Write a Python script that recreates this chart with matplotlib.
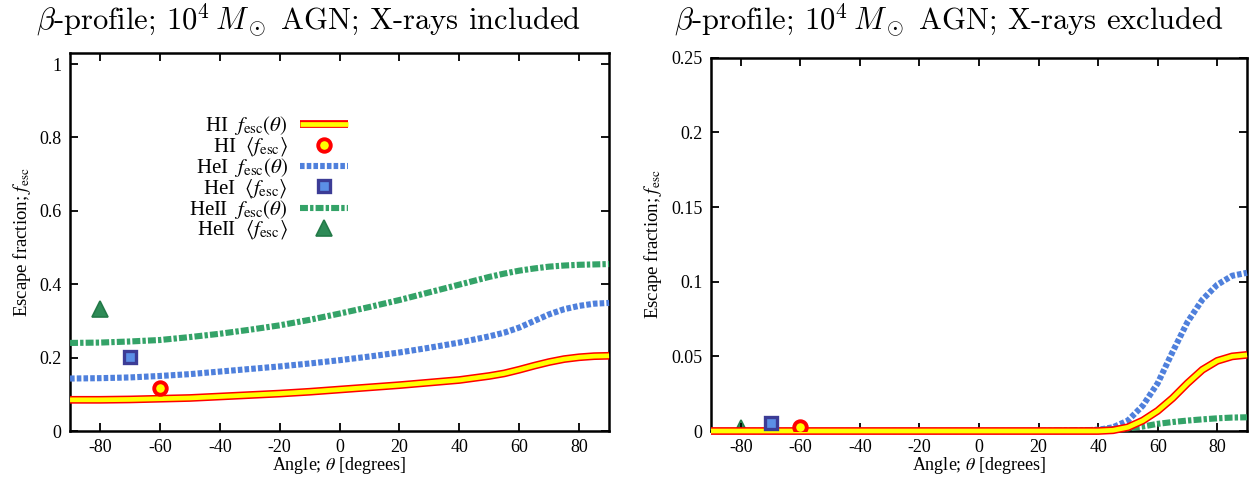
import matplotlib
matplotlib.use("Agg")
import matplotlib.pyplot as plt
import matplotlib.patheffects as pe
from matplotlib.ticker import FuncFormatter

plt.rcParams['font.family'] = ['Liberation Serif', 'DejaVu Serif']
plt.rcParams['mathtext.fontset'] = 'stix'

# ---- data ----
theta_hi_l = [-90, -80, -70, -60, -50, -40, -30, -20, -10, 0, 10, 20, 30, 40, 50, 55, 60, 65, 70, 75, 80, 85, 90]
hi_l = [0.085, 0.085, 0.086, 0.088, 0.090, 0.094, 0.098, 0.102, 0.107, 0.113, 0.119, 0.125, 0.132, 0.139,
        0.150, 0.157, 0.167, 0.178, 0.188, 0.196, 0.201, 0.204, 0.205]
hei_l = [0.143, 0.144, 0.146, 0.150, 0.155, 0.162, 0.169, 0.176, 0.184, 0.193, 0.203, 0.214, 0.227, 0.241,
         0.258, 0.268, 0.282, 0.300, 0.318, 0.332, 0.341, 0.347, 0.349]
heii_l = [0.240, 0.241, 0.244, 0.248, 0.256, 0.265, 0.276, 0.288, 0.303, 0.320, 0.338, 0.357, 0.378, 0.399,
          0.420, 0.429, 0.437, 0.443, 0.448, 0.451, 0.453, 0.454, 0.455]

theta_r = [-90, -60, -30, 0, 20, 30, 35, 40, 45, 50, 55, 60, 65, 70, 75, 80, 85, 90]
hi_r = [0.0, 0.0, 0.0, 0.0, 0.0, 0.0, 0.0, 0.0, 0.0005, 0.0025, 0.007, 0.0135, 0.022, 0.032, 0.041, 0.047, 0.050, 0.051]
hei_r = [0.0, 0.0, 0.0, 0.0, 0.0, 0.0, 0.0003, 0.0008, 0.0025, 0.007, 0.017, 0.032, 0.053, 0.073, 0.088, 0.098, 0.104, 0.106]
heii_r = [0.0, 0.0, 0.0, 0.0, 0.0, 0.0003, 0.0005, 0.0008, 0.0013, 0.0018, 0.003, 0.0048, 0.006, 0.007, 0.0078, 0.0085, 0.009, 0.0092]

# angle-averaged values and the angle they are shown at
mean_theta = {'HI': -60, 'HeI': -70, 'HeII': -80}
mean_l = {'HI': 0.118, 'HeI': 0.201, 'HeII': 0.332}
mean_r = {'HI': 0.0025, 'HeI': 0.0054, 'HeII': 0.002}

titles = [r'$\beta$-profile; $10^4\,M_\odot$ AGN; X-rays included',
          r'$\beta$-profile; $10^4\,M_\odot$ AGN; X-rays excluded']
xticks = [-80, -60, -40, -20, 0, 20, 40, 60, 80]
yticks_l = [0, 0.2, 0.4, 0.6, 0.8, 1.0]
yticks_r = [0, 0.05, 0.1, 0.15, 0.2, 0.25]

fig = plt.figure(figsize=(12.6, 4.79), dpi=100)
ax1 = fig.add_axes([0.0556, 0.1002, 0.4278, 0.789])
ax2 = fig.add_axes([0.5643, 0.1002, 0.4254, 0.779])

blue = '#4f80dc'
green = '#34a368'


def draw(ax, th, hi, hei, heii, means):
    ax.plot(th, hi, color='#ffff00', lw=3.4, solid_capstyle='butt', zorder=4, clip_on=False,
            path_effects=[pe.Stroke(linewidth=5.6, foreground='#ff0000'), pe.Normal()],
            label=r'HI  $f_{\rm esc}(\theta)$')
    ax.plot(means['HI'][0], means['HI'][1], 'o', ms=9, mfc='#ffff00', mec='#ff0000', mew=2.8, zorder=5,
            label=r'HI  $\langle f_{\rm esc}\rangle$')
    ax.plot(th, hei, color=blue, lw=4.4, linestyle=(0, (0.75, 0.35)), dash_capstyle='butt', zorder=3,
            clip_on=False, label=r'HeI  $f_{\rm esc}(\theta)$')
    ax.plot(means['HeI'][0], means['HeI'][1], 's', ms=9, mfc='#5b8fe6', mec='#3c3c96', mew=2.4, zorder=5,
            label=r'HeI  $\langle f_{\rm esc}\rangle$')
    ax.plot(th, heii, color=green, lw=4.4, linestyle=(0, (1.3, 0.35, 0.55, 0.35)), dash_capstyle='butt',
            zorder=2.8, clip_on=False, label=r'HeII  $f_{\rm esc}(\theta)$')
    ax.plot(means['HeII'][0], means['HeII'][1], '^', ms=11, mfc='#2e8b57', mec='#237a48', mew=1.2, zorder=1.5,
            label=r'HeII  $\langle f_{\rm esc}\rangle$')


draw(ax1, theta_hi_l, hi_l, hei_l, heii_l,
     {k: (mean_theta[k], mean_l[k]) for k in mean_theta})
draw(ax2, theta_r, hi_r, hei_r, heii_r,
     {k: (mean_theta[k], mean_r[k]) for k in mean_theta})

fmt = FuncFormatter(lambda v, p: '%g' % round(v, 4))
for ax, yt, ylim in [(ax1, yticks_l, (0, 1.03)), (ax2, yticks_r, (0, 0.25))]:
    ax.set_xlim(-90, 90)
    ax.set_ylim(*ylim)
    ax.set_xticks(xticks)
    ax.set_yticks(yt)
    ax.xaxis.set_major_formatter(fmt)
    ax.yaxis.set_major_formatter(fmt)
    ax.tick_params(direction='in', top=True, right=True, length=6, width=1.3, labelsize=13, pad=6)
    for s in ax.spines.values():
        s.set_linewidth(1.8)
    ax.set_xlabel(r'Angle; $\theta$ [degrees]', fontsize=13, labelpad=-1)
    ax.set_ylabel(r'Escape fraction; $f_{\rm esc}$', fontsize=13.5, labelpad=5)

ax1.legend(loc='upper right', bbox_to_anchor=(0.535, 0.866), frameon=False, markerfirst=False,
           fontsize=15, handlelength=2.3, handletextpad=0.6, labelspacing=-0.1, borderpad=0,
           handleheight=0.6, numpoints=1)

fig.text(0.245, 0.958, titles[0], ha='center', va='center', fontsize=22, family='cmr10', math_fontfamily='cm')
fig.text(0.753, 0.958, titles[1], ha='center', va='center', fontsize=22, family='cmr10', math_fontfamily='cm')

fig.savefig('out.png', dpi=100)
